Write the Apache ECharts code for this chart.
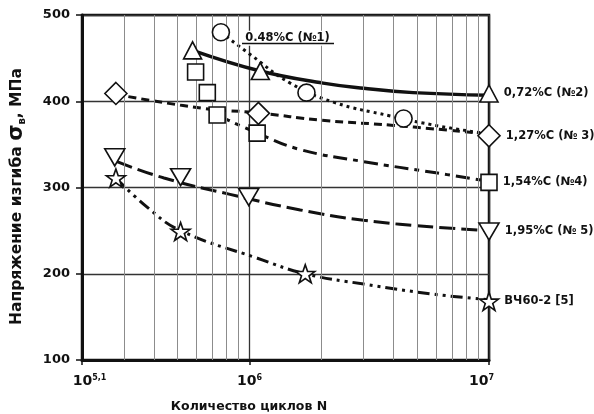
<!DOCTYPE html>
<html><head><meta charset="utf-8">
<script src="https://cdn.jsdelivr.net/npm/echarts@6/dist/echarts.min.js"></script>
<style>html,body{margin:0;padding:0;background:#fff}#c{width:594px;height:414px}</style>
</head><body><div id="c"></div>
<script>
// ---------- data ----------
const xMin = 2e5, xMax = 1e7;
const yMin = 100, yMax = 500, yStep = 100;
const xTickExp = ['5,1', '6', '7'];
const minorGridN = [3e5, 4e5, 5e5, 6e5, 7e5, 8e5, 9e5, 2e6, 3e6, 4e6, 5e6, 6e6, 7e6, 8e6, 9e6];

const seriesNames = ['0.48%C (№1)', '0,72%C (№2)', '1,27%C (№ 3)', '1,54%C (№4)', '1,95%C (№ 5)', 'ВЧ60-2 [5]'];

const pts048 = [[7.6e5, 480], [1.73e6, 410], [4.4e6, 380]];
const fit048 = [[7.6e5, 480], [1.01e6, 454], [1.48e6, 421], [2.24e6, 399], [3.87e6, 383], [6.25e6, 371], [1e7, 362]];

const pts072 = [[5.79e5, 459], [1.11e6, 435], [1e7, 409]];
const fit072 = [[5.79e5, 459], [1.11e6, 435], [2.03e6, 421], [3e6, 415], [4.82e6, 410], [1e7, 407]];

const pts127 = [[2.77e5, 409], [1.09e6, 386], [1e7, 360]];
const fit127 = [[2.77e5, 408], [6.3e5, 392], [1.09e6, 386.5], [2e6, 378], [4e6, 372], [1e7, 362]];

const pts154 = [[5.96e5, 434], [6.67e5, 410], [7.33e5, 384], [1.077e6, 363], [1e7, 306]];
const fit154 = [[7.33e5, 384], [1.08e6, 363], [1.63e6, 344], [3e6, 330], [6e6, 317], [1e7, 307]];

const pts195 = [[2.74e5, 335], [5.16e5, 312], [9.93e5, 289], [1e7, 249]];
const fit195 = [[2.8e5, 330], [4.4e5, 311], [8.3e5, 292], [1.63e6, 274], [3e6, 262], [6e6, 254], [1e7, 250]];

const ptsVch = [[2.77e5, 311], [5.16e5, 249], [1.71e6, 200], [1e7, 168]];
const fitVch = [[2.77e5, 311], [3.75e5, 277], [5.16e5, 250], [1.08e6, 218], [1.71e6, 200], [3e6, 188], [6e6, 176], [1e7, 170]];

// ---------- styling ----------
const FONT = 'DejaVu Sans';
const INK = '#111';
const STAR = 'path://M50,2 L61.5,36 L97,36 L68.5,57.5 L79.5,92 L50,71 L20.5,92 L31.5,57.5 L3,36 L38.5,36 Z';

const defs = [
  {name: seriesNames[0], pts: pts048, fit: fit048, symbol: 'circle', size: 17, rot: 0, dash: [3, 4], lab: 0, width: 3},
  {name: seriesNames[1], pts: pts072, fit: fit072, symbol: 'triangle', size: [18, 17], rot: 0, dash: 'solid', lab: 2, width: 3.5},
  {name: seriesNames[2], pts: pts127, fit: fit127, symbol: 'diamond', size: [22, 22], rot: 0, dash: [8, 5], lab: 2, width: 3},
  {name: seriesNames[3], pts: pts154, fit: fit154, symbol: 'rect', size: [16, 16], rot: 0, dash: [14, 6, 5, 6], lab: 4, width: 3},
  {name: seriesNames[4], pts: pts195, fit: fit195, symbol: 'triangle', size: [20, 17], rot: 180, dash: [16, 6], lab: 3, width: 3},
  {name: seriesNames[5], pts: ptsVch, fit: fitVch, symbol: STAR, size: [19, 18], rot: 0, dash: [12, 5, 3, 5, 3, 5], lab: 3, width: 3}
];

const series = [];
// minor vertical grid lines
series.push({
  type: 'line', data: [], silent: true, z: 1,
  markLine: {
    silent: true, symbol: ['none', 'none'], animation: false,
    label: {show: false},
    lineStyle: {color: '#8c8c8c', width: 1, type: 'solid'},
    data: minorGridN.map(v => ({xAxis: v}))
  }
});

defs.forEach((d, k) => {
  series.push({
    type: 'line', name: d.name + ' fit', data: d.fit, smooth: 0.45,
    showSymbol: false, symbol: 'none', silent: true, z: 3, animation: false,
    lineStyle: {color: INK, width: d.width, type: d.dash, cap: 'butt'}
  });
  const isFirst = k === 0;
  series.push({
    type: 'scatter', name: d.name, symbol: d.symbol, symbolSize: d.size, symbolRotate: d.rot,
    z: 5, animation: false,
    itemStyle: {color: '#fff', borderColor: INK, borderWidth: 1.6, opacity: 1},
    data: d.pts.map((p, i) => i === d.lab ? {
      value: p,
      label: isFirst ? {
        show: true, position: 'right', distance: 14, offset: [0, 6],
        formatter: d.name, fontFamily: FONT, fontWeight: 'bold', fontSize: 11.5, color: INK,
        backgroundColor: '#fff', padding: [2, 1, 1, 1]
      } : {
        show: true, position: 'right', distance: 5,
        formatter: d.name, fontFamily: FONT, fontWeight: 'bold', fontSize: 11.5, color: INK
      }
    } : p)
  });
});

const chart = echarts.init(document.getElementById('c'), null, {renderer: 'canvas'});
chart.setOption({
  animation: false,
  backgroundColor: '#fff',
  grid: {left: 82, right: 105, top: 15, bottom: 54, containLabel: false, outerBoundsMode: 'none',
    show: true, borderColor: INK, borderWidth: 2.5, backgroundColor: 'transparent'},
  xAxis: {
    type: 'log', logBase: 10, min: xMin, max: xMax,
    name: 'Количество циклов N', nameLocation: 'middle', nameGap: 40,
    nameTextStyle: {fontFamily: FONT, fontWeight: 'bold', fontSize: 12.5, color: INK, padding: [0, 73, 0, 0]},
    axisLine: {show: true, lineStyle: {color: INK, width: 3}},
    axisTick: {show: true, length: 5, lineStyle: {color: INK, width: 1.5}},
    splitLine: {show: true, lineStyle: {color: '#333', width: 1.3}},
    minorTick: {show: false}, minorSplitLine: {show: false},
    axisLabel: {
      margin: 14, showMinLabel: true, showMaxLabel: true, hideOverlap: false,
      formatter: (v, i) => (i === 0 ? '{p|}' : '') + '{b|10}{s|' + xTickExp[i] + '}' + (i === xTickExp.length - 1 ? '{p|}' : ''),
      rich: {
        p: {width: 15},
        b: {fontFamily: FONT, fontWeight: 'bold', fontSize: 14, color: INK},
        s: {fontFamily: FONT, fontWeight: 'bold', fontSize: 8, color: INK, verticalAlign: 'top', padding: [0, 0, 6, 0]}
      }
    }
  },
  yAxis: {
    type: 'value', min: yMin, max: yMax, interval: yStep,
    name: '{a|Напряжение изгиба }{g|σ}{i|в}{a|, МПа}', nameLocation: 'middle', nameGap: 55, nameRotate: 90,
    nameTextStyle: {
      padding: [0, 18, 0, 0],
      rich: {
        a: {fontFamily: FONT, fontWeight: 'bold', fontSize: 15.5, color: INK},
        g: {fontFamily: FONT, fontWeight: 'bold', fontSize: 21, color: INK},
        i: {fontFamily: FONT, fontWeight: 'bold', fontSize: 10, color: INK, verticalAlign: 'bottom', padding: [6, 0, 0, 0]}
      }
    },
    axisLine: {show: true, lineStyle: {color: INK, width: 3}},
    axisTick: {show: true, length: 6, lineStyle: {color: INK, width: 1.5}},
    splitLine: {show: true, lineStyle: {color: '#333', width: 1.3}},
    axisLabel: {margin: 12, fontFamily: FONT, fontWeight: 'bold', fontSize: 13, color: INK}
  },
  graphic: [
    {type: 'line', shape: {x1: 242, y1: 43.5, x2: 334, y2: 43.5}, style: {stroke: INK, lineWidth: 1.3}, z: 10}
  ],
  series: series
});
</script></body></html>
